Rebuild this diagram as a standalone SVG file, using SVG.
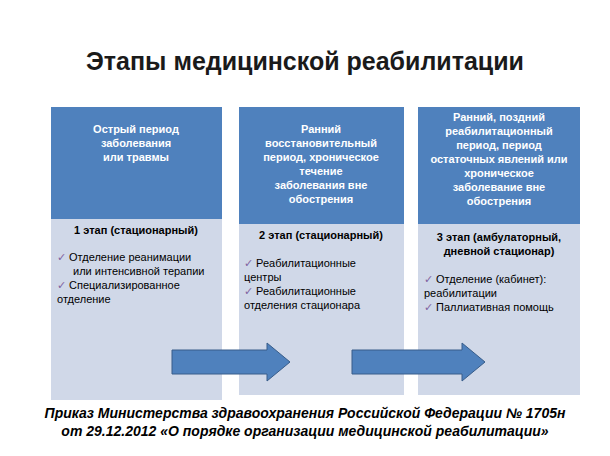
<svg xmlns="http://www.w3.org/2000/svg" width="610" height="456" viewBox="0 0 610 456">
<style>
text{font-family:"Liberation Sans",Arial,sans-serif}
.hd{fill:#4f81bd}.bd{fill:#d0d8e8}
.w{fill:#fff;font-size:11px;font-weight:bold;text-anchor:middle}
.s{fill:#000;font-size:11px;font-weight:bold;text-anchor:middle}
.t{fill:#000;font-size:11px}
.c{fill:#8064a2}
.ar{fill:#4f81bd;stroke:#385d8a;stroke-width:1}
</style>
<rect width="610" height="456" fill="#fff"/>
<text x="305" y="70" text-anchor="middle" font-size="25" font-weight="bold" fill="#1a1a1a">Этапы медицинской реабилитации</text>
<g id="n1">
<rect class="hd" x="51" y="107" width="171" height="112"/>
<rect class="bd" x="51" y="219" width="171" height="181"/>
<text class="w" x="136" y="133">Острый период</text>
<text class="w" x="136" y="147">заболевания</text>
<text class="w" x="136" y="161">или травмы</text>
<text class="s" x="136" y="234">1 этап (стационарный)</text>
<text class="t" x="57" y="261"><tspan class="c">✓</tspan> Отделение реанимации</text>
<text class="t" x="73" y="275">или интенсивной терапии</text>
<text class="t" x="57" y="289"><tspan class="c">✓</tspan> Специализированное</text>
<text class="t" x="57" y="303">отделение</text>
</g>
<g id="n2">
<rect class="hd" x="239" y="107" width="165" height="117"/>
<rect class="bd" x="239" y="224" width="165" height="171"/>
<text class="w" x="321" y="133">Ранний</text>
<text class="w" x="321" y="147">восстановительный</text>
<text class="w" x="321" y="161">период, хроническое</text>
<text class="w" x="321" y="175">течение</text>
<text class="w" x="321" y="189">заболевания вне</text>
<text class="w" x="321" y="203">обострения</text>
<text class="s" x="321" y="239">2 этап (стационарный)</text>
<text class="t" x="244" y="267"><tspan class="c">✓</tspan> Реабилитационные</text>
<text class="t" x="244" y="281">центры</text>
<text class="t" x="244" y="295"><tspan class="c">✓</tspan> Реабилитационные</text>
<text class="t" x="244" y="309">отделения стационара</text>
</g>
<g id="n3">
<rect class="hd" x="418" y="107" width="162" height="117"/>
<rect class="bd" x="418" y="224" width="162" height="171"/>
<text class="w" x="499" y="121">Ранний, поздний</text>
<text class="w" x="499" y="135">реабилитационный</text>
<text class="w" x="499" y="149">период, период</text>
<text class="w" x="499" y="163">остаточных явлений или</text>
<text class="w" x="499" y="177">хроническое</text>
<text class="w" x="499" y="191">заболевание вне</text>
<text class="w" x="499" y="205">обострения</text>
<text class="s" x="499" y="241">3 этап (амбулаторный,</text>
<text class="s" x="499" y="255">дневной стационар)</text>
<text class="t" x="424" y="283"><tspan class="c">✓</tspan> Отделение (кабинет):</text>
<text class="t" x="424" y="297">реабилитации</text>
<text class="t" x="424" y="311"><tspan class="c">✓</tspan> Паллиативная помощь</text>
</g>
<g id="connectors">
<path class="ar" d="M172,350 H267 V343 L290,362 L267,381 V374 H172 Z"/>
<path class="ar" d="M352,350 H462 V343 L485,362 L462,381 V374 H352 Z"/>
</g>
<text x="305" y="418" text-anchor="middle" font-size="14" font-weight="bold" font-style="italic">Приказ Министерства здравоохранения Российской Федерации № 1705н</text>
<text x="305" y="436" text-anchor="middle" font-size="14" font-weight="bold" font-style="italic">от 29.12.2012 «О порядке организации медицинской реабилитации»</text>
</svg>
